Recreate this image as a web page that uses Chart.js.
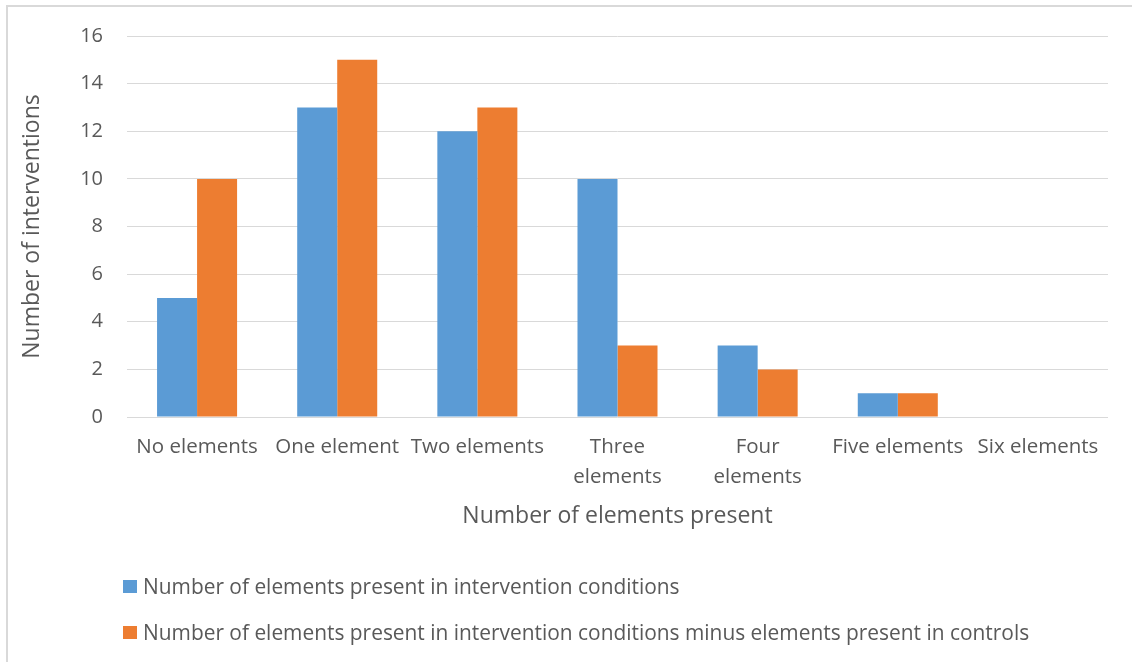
<!DOCTYPE html>
<html>
<head>
<meta charset="utf-8">
<script src="https://cdn.jsdelivr.net/npm/chart.js@4/dist/chart.umd.min.js"></script>
<style>
  html, body { margin: 0; padding: 0; background: #fff; overflow: hidden; }
  #frame {
    position: absolute; left: 6px; top: 5px; width: 1140px; height: 680px;
    border: 2px solid #d9d9d9; box-sizing: border-box;
  }
  #wrap { position: absolute; left: 0; top: 0; width: 1132px; height: 662px; }
  #legend {
    position: absolute; left: 123px; top: 573px;
    font-family: "Open Sans", sans-serif; font-size: 20.9px; color: #595959;
  }
  #legend .item { display: flex; align-items: center; height: 26px; margin-bottom: 20px; white-space: nowrap; }
  #legend .sw { width: 14px; height: 13px; margin-right: 6px; flex: none; }
</style>
</head>
<body>
<div id="frame"></div>
<div id="wrap">
  <canvas id="chart" width="1132" height="662"></canvas>
  <div id="legend"></div>
</div>
<script>
// Categories along the x axis (multi-line labels as arrays)
const categories = [
  'No elements',
  'One element',
  'Two elements',
  ['Three', 'elements'],
  ['Four', 'elements'],
  'Five elements',
  'Six elements'
];

// Series names
const seriesNames = [
  'Number of elements present in intervention conditions',
  'Number of elements present in intervention conditions minus elements present in controls'
];

// Counts per category
const interventionCounts = [5, 13, 12, 10, 3, 1, 0];
const minusControlCounts = [10, 15, 13, 3, 2, 1, 0];

// Value axis ticks
const yTicks = [0, 2, 4, 6, 8, 10, 12, 14, 16];

const seriesColors = ['#5B9BD5', '#ED7D31'];
const textColor = '#595959';
const gridColor = '#d9d9d9';
const fontFamily = '"Open Sans", sans-serif';

const chart = new Chart(document.getElementById('chart'), {
  type: 'bar',
  data: {
    labels: categories,
    datasets: [
      { label: seriesNames[0], data: interventionCounts, backgroundColor: seriesColors[0] },
      { label: seriesNames[1], data: minusControlCounts, backgroundColor: seriesColors[1] }
    ]
  },
  options: {
    responsive: false,
    animation: false,
    datasets: { bar: { categoryPercentage: 0.571, barPercentage: 1.0 } },
    layout: { padding: { top: 36, right: 24, left: 0, bottom: 100 } },
    plugins: {
      legend: { display: false },
      tooltip: { enabled: false }
    },
    scales: {
      x: {
        grid: { display: false, drawTicks: false },
        border: { display: false },
        ticks: {
          color: textColor,
          padding: 16,
          maxRotation: 0,
          autoSkip: false,
          font: { family: fontFamily, size: 20.5, lineHeight: 1.42 }
        },
        title: {
          display: true,
          text: 'Number of elements present',
          color: textColor,
          font: { family: fontFamily, size: 23, lineHeight: 1.2 },
          padding: { top: 0, bottom: 32 }
        },
        afterFit: (scale) => { scale.height = 145; }
      },
      y: {
        min: 0,
        max: 16,
        afterBuildTicks: (scale) => { scale.ticks = yTicks.map(v => ({ value: v })); },
        grid: { color: gridColor, lineWidth: 1, drawTicks: false },
        border: { display: false },
        ticks: {
          color: textColor,
          padding: 24,
          font: { family: fontFamily, size: 20 }
        },
        title: {
          display: true,
          text: 'Number of interventions',
          color: textColor,
          font: { family: fontFamily, size: 23, lineHeight: 1.2 },
          padding: { top: 19, bottom: 0 }
        },
        afterFit: (scale) => { scale.width = 127; }
      }
    }
  }
});

// Legend list built from the chart's datasets
const legendEl = document.getElementById('legend');
chart.data.datasets.forEach((ds) => {
  const item = document.createElement('div');
  item.className = 'item';
  const sw = document.createElement('span');
  sw.className = 'sw';
  sw.style.background = ds.backgroundColor;
  const label = document.createElement('span');
  label.textContent = ds.label;
  item.appendChild(sw);
  item.appendChild(label);
  legendEl.appendChild(item);
});
</script>
</body>
</html>
